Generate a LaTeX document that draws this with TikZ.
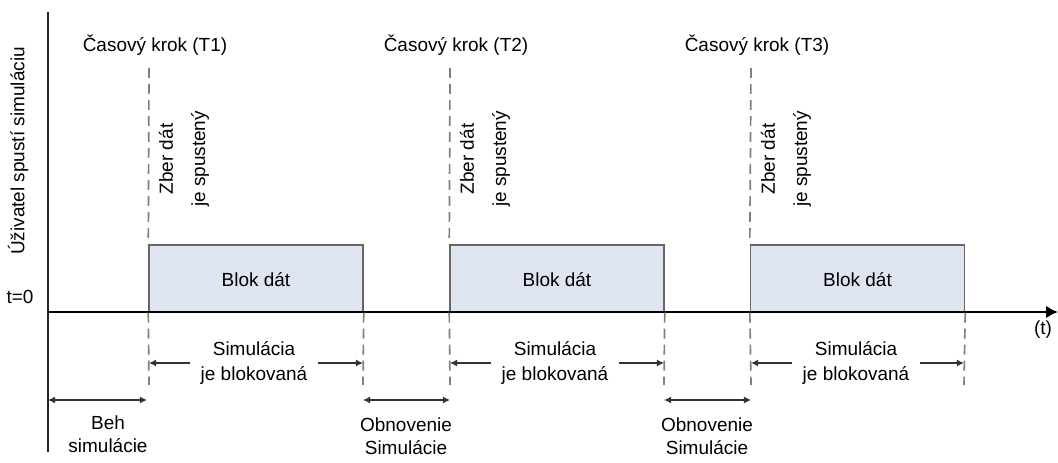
\documentclass[tikz,border=0pt]{standalone}
\usepackage{fontspec}
\setmainfont{Liberation Sans}
\usetikzlibrary{arrows.meta,positioning}

\definecolor{blokfill}{HTML}{DFE5F0}
\definecolor{blokline}{HTML}{666666}
\definecolor{dashgray}{HTML}{808080}
\definecolor{sipkagray}{HTML}{333333}

\tikzset{
  blok/.style={draw=blokline, fill=blokfill, line width=1pt, minimum width=5.35cm, minimum height=1.675cm, inner sep=0pt},
  pomlcka/.style={draw=dashgray, line width=1.2pt, dash pattern=on 0.25cm off 0.15cm},
  sipka/.style={draw=sipkagray, line width=0.9pt, -{Latex[length=0.18cm,width=0.18cm]}},
  obesipky/.style={draw=sipkagray, line width=0.9pt, {Latex[length=0.18cm,width=0.18cm]}-{Latex[length=0.18cm,width=0.18cm]}},
  popis/.style={align=center, inner sep=0pt, font=\fontsize{13.5}{16}\selectfont},
  medzera/.style={popis, minimum width=3.2cm}
}

\begin{document}
\begin{tikzpicture}
\useasboundingbox (0,0) rectangle (26.45,11.55);

% bloky dat
\node[blok] (b1) at (6.4,4.5875) {};
\node[blok] (b2) at (13.925,4.5875) {};
\node[blok] (b3) at (21.4375,4.5875) {};
\node[popis] (bt1) at (6.4,4.55) {Blok dát};
\node[popis] (bt2) at (13.925,4.55) {Blok dát};
\node[popis] (bt3) at (21.4375,4.55) {Blok dát};

% osi
\coordinate (o) at (1.2,3.75);
\coordinate (e) at (26.45,3.75);
\coordinate (yh) at (1.2,11.25);
\coordinate (yd) at (1.2,0.25);
\draw[line width=1.2pt, draw=black!85] (yh) -- (yd);
\draw[line width=1.6pt, -{Latex[length=0.3cm,width=0.32cm]}] (o) -- (e);

% koncove body ciarkovanych ciar
\coordinate (t1) at (3.725,9.85);
\coordinate (t2) at (11.25,9.85);
\coordinate (t3) at (18.775,9.85);
\coordinate (u1) at (3.725,1.925);
\coordinate (u2) at (11.25,1.925);
\coordinate (u3) at (18.775,1.925);
\coordinate (v1) at (9.075,1.925);
\coordinate (v2) at (16.6,1.925);
\coordinate (v3) at (24.1,1.925);

\path
(t1) edge[pomlcka] (b1.north west)
(t2) edge[pomlcka] (b2.north west)
(t3) edge[pomlcka] (b3.north west)
(b1.south west) edge[pomlcka] (u1)
(b2.south west) edge[pomlcka] (u2)
(b3.south west) edge[pomlcka] (u3)
(b1.south east) edge[pomlcka] (v1)
(b2.south east) edge[pomlcka] (v2)
(b3.south east) edge[pomlcka] (v3);

% popisky
\node[popis, rotate=90] (u) at (0.45,7.775) {Úživatel spustí simuláciu};
\node[popis] (t0) at (0.5,4.125) {t=0};
\node[popis] (t) at (26.075,3.3) {(t)};
\node[popis] (k1) at (3.875,10.425) {Časový krok (T1)};
\node[popis] (k2) at (11.4,10.425) {Časový krok (T2)};
\node[popis] (k3) at (18.925,10.425) {Časový krok (T3)};
\node[popis, rotate=90] (z1) at (4.6,7.575) {Zber dát\\[7pt]je spustený};
\node[popis, rotate=90] (z2) at (12.125,7.575) {Zber dát\\[7pt]je spustený};
\node[popis, rotate=90] (z3) at (19.65,7.575) {Zber dát\\[7pt]je spustený};

% simulacia je blokovana
\node[medzera] (s1) at (6.35,2.475) {Simulácia\\[2pt]je blokovaná};
\node[medzera] (s2) at (13.875,2.475) {Simulácia\\[2pt]je blokovaná};
\node[medzera] (s3) at (21.4,2.475) {Simulácia\\[2pt]je blokovaná};

\path
(s1.west) edge[sipka] (s1.west -| u1)
(s1.east) edge[sipka] (s1.east -| v1)
(s2.west) edge[sipka] (s2.west -| u2)
(s2.east) edge[sipka] (s2.east -| v2)
(s3.west) edge[sipka] (s3.west -| u3)
(s3.east) edge[sipka] (s3.east -| v3);

% beh a obnovenie simulacie
\coordinate (h0) at (1.2,1.55);
\coordinate (h1) at (3.675,1.55);
\coordinate (r1) at (9.075,1.55);
\coordinate (r2) at (11.25,1.55);
\coordinate (r3) at (16.6,1.55);
\coordinate (r4) at (18.775,1.55);
\path
(h0) edge[obesipky] (h1)
(r1) edge[obesipky] (r2)
(r3) edge[obesipky] (r4);

\node[popis] (beh) at (2.7,0.7) {Beh\\simulácie};
\node[popis] (ob1) at (10.15,0.65) {Obnovenie\\Simulácie};
\node[popis] (ob2) at (17.675,0.65) {Obnovenie\\Simulácie};
\end{tikzpicture}
\end{document}
